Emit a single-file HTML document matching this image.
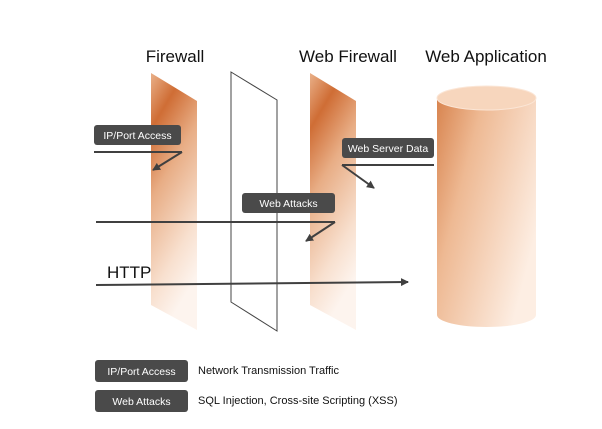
<!DOCTYPE html>
<html><head><meta charset="utf-8"><style>
body{margin:0;background:#fff;}
svg{display:block;font-family:"Liberation Sans","DejaVu Sans",sans-serif;}
</style></head><body>
<svg width="602" height="429" viewBox="0 0 602 429" xmlns="http://www.w3.org/2000/svg">
<defs>
<linearGradient id="fw" x1="0" y1="0" x2="0.3" y2="1">
<stop offset="0" stop-color="#e9b089"/>
<stop offset="0.2" stop-color="#cf6d35"/>
<stop offset="0.45" stop-color="#e8ad85"/>
<stop offset="0.8" stop-color="#f8e0cf"/>
<stop offset="1" stop-color="#fdf4ee"/>
</linearGradient>
<linearGradient id="cyl" x1="0" y1="0" x2="1" y2="0.6">
<stop offset="0" stop-color="#d8844f"/>
<stop offset="0.35" stop-color="#eeb993"/>
<stop offset="1" stop-color="#fdeee3"/>
</linearGradient>
<marker id="ah" markerWidth="8" markerHeight="8" refX="7" refY="4" orient="auto" markerUnits="userSpaceOnUse">
<path d="M0,0 L8,4 L0,8 z" fill="#404040"/>
</marker>
</defs>
<text x="175" y="62" font-size="17" text-anchor="middle" fill="#111">Firewall</text>
<text x="348" y="62" font-size="17" text-anchor="middle" fill="#111">Web Firewall</text>
<text x="486" y="62" font-size="17" text-anchor="middle" fill="#111">Web Application</text>

<polygon points="151,73 197,101 197,330 151,305" fill="url(#fw)"/>
<polygon points="310,73 356,101 356,330 310,305" fill="url(#fw)"/>
<polygon points="231,72 277,100 277,331 231,302" fill="none" stroke="#444" stroke-width="1"/>

<path d="M437,98 L437,315 A49.5,12 0 0 0 536,315 L536,98 Z" fill="url(#cyl)"/>
<ellipse cx="486.5" cy="98" rx="49.5" ry="12" fill="#f7d6bd" stroke="#fbe6d6" stroke-width="1"/>

<g stroke="#404040" stroke-width="2" fill="none">
<line x1="94" y1="152" x2="182" y2="152"/>
<line x1="182" y1="152" x2="153" y2="170" marker-end="url(#ah)"/>
<line x1="434" y1="165" x2="342" y2="165"/>
<line x1="342" y1="165" x2="374" y2="188" marker-end="url(#ah)"/>
<line x1="96" y1="222" x2="335" y2="222"/>
<line x1="335" y1="222" x2="306" y2="241" marker-end="url(#ah)"/>
<line x1="96" y1="285" x2="408" y2="282" marker-end="url(#ah)"/>
</g>

<g font-size="10.5" fill="#fff" text-anchor="middle">
<rect x="94" y="125" width="87" height="20" rx="3" fill="#4a4a4a"/>
<text x="137.5" y="139">IP/Port Access</text>
<rect x="342" y="138" width="92" height="20" rx="3" fill="#4a4a4a"/>
<text x="388" y="152">Web Server Data</text>
<rect x="242" y="193" width="93" height="20" rx="3" fill="#4a4a4a"/>
<text x="288.5" y="207">Web Attacks</text>
<rect x="95" y="360" width="93" height="22" rx="3" fill="#4a4a4a"/>
<text x="141.5" y="375">IP/Port Access</text>
<rect x="95" y="390" width="93" height="22" rx="3" fill="#4a4a4a"/>
<text x="141.5" y="405">Web Attacks</text>
</g>
<text x="107" y="278" font-size="17" fill="#111">HTTP</text>
<text x="198" y="374" font-size="11" fill="#111">Network Transmission Traffic</text>
<text x="198" y="404" font-size="11" fill="#111">SQL Injection, Cross-site Scripting (XSS)</text>
</svg>
</body></html>
